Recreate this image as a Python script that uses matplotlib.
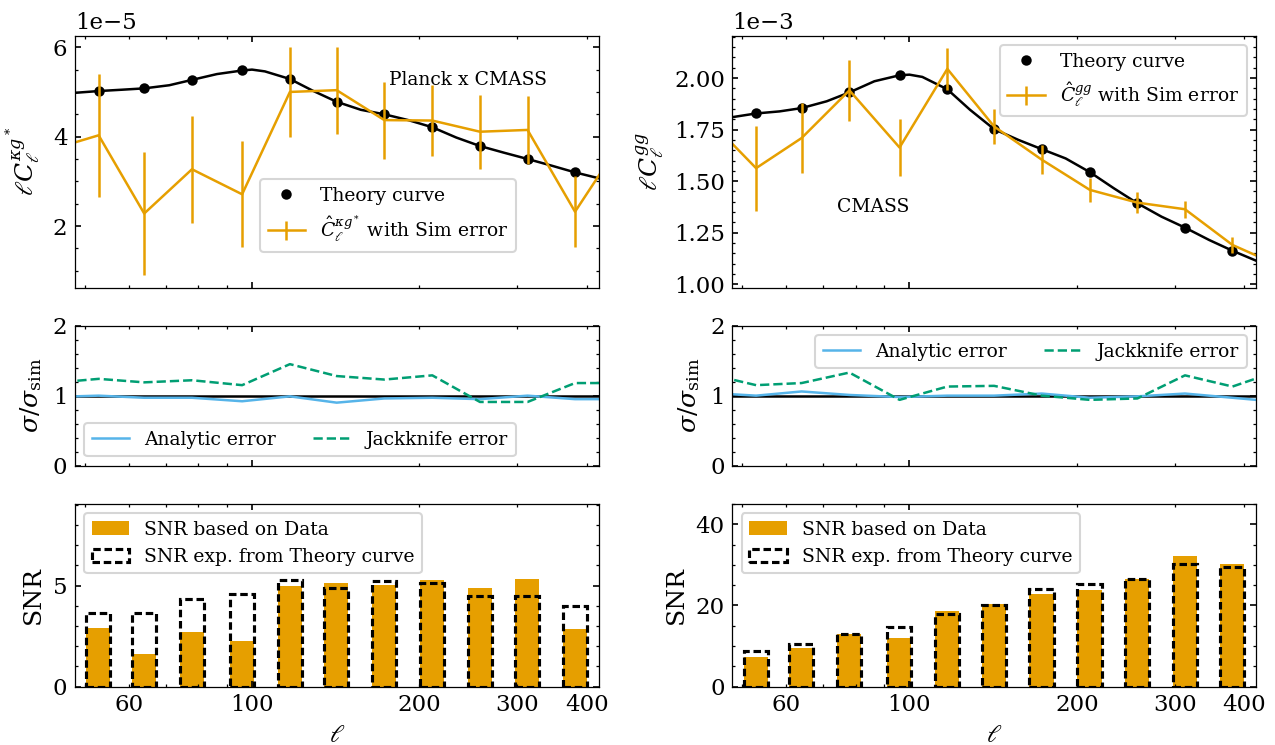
import matplotlib
matplotlib.use("Agg")
import matplotlib.pyplot as plt
from matplotlib.ticker import LogFormatter, AutoMinorLocator, MultipleLocator

plt.rcParams['font.family'] = 'serif'
plt.rcParams['font.serif'] = ['DejaVu Serif']
plt.rcParams['mathtext.fontset'] = 'dejavuserif'
plt.rcParams['font.size'] = 11
plt.rcParams['xtick.labelsize'] = 11
plt.rcParams['ytick.labelsize'] = 11
plt.rcParams['xtick.direction'] = 'in'
plt.rcParams['ytick.direction'] = 'in'
plt.rcParams['xtick.top'] = True
plt.rcParams['ytick.right'] = True
plt.rcParams['xtick.minor.visible'] = True
plt.rcParams['ytick.minor.visible'] = True
plt.rcParams['xtick.major.size'] = 3
plt.rcParams['ytick.major.size'] = 3
plt.rcParams['xtick.minor.size'] = 1.5
plt.rcParams['ytick.minor.size'] = 1.5
plt.rcParams['axes.linewidth'] = 0.6
plt.rcParams['legend.fontsize'] = 9

# bin centres (ell), plus one bin each side outside the plotted range
ell = [53, 64, 78, 96, 117, 142, 173, 211, 257, 313, 381]
ell_ext = [43.5] + ell + [463]

# smooth theory curves
ell_fine = [48, 53, 58.4, 64, 71, 78, 86.5, 96, 100, 105.5, 117, 128.5, 142,
            157, 173, 191, 211, 233, 257, 284, 313, 346, 381, 420]
kg_theory_fine = [4.98, 5.02, 5.05, 5.08, 5.15, 5.27, 5.40, 5.48, 5.50, 5.46, 5.29,
                  5.03, 4.78, 4.60, 4.50, 4.37, 4.21, 3.98, 3.79, 3.64, 3.50, 3.35,
                  3.20, 3.07]
gg_theory_fine = [1.81, 1.828, 1.838, 1.854, 1.887, 1.930, 1.984, 2.013, 2.016, 2.005,
                  1.945, 1.846, 1.752, 1.70, 1.655, 1.61, 1.544, 1.466, 1.393, 1.328,
                  1.275, 1.215, 1.163, 1.115]

# theory at bin centres
kg_theory = [5.02, 5.08, 5.27, 5.48, 5.29, 4.78, 4.50, 4.21, 3.79, 3.50, 3.20]
gg_theory = [1.828, 1.854, 1.930, 2.013, 1.945, 1.752, 1.655, 1.544, 1.393, 1.275, 1.163]

# measured spectra (ell_ext) and sim errors
kg_data = [3.71, 4.03, 2.28, 3.27, 2.71, 5.00, 5.04, 4.37, 4.36, 4.11, 4.15, 2.32, 3.92]
kg_err = [1.4, 1.38, 1.38, 1.20, 1.19, 1.00, 0.97, 0.86, 0.80, 0.83, 0.76, 0.80, 0.8]
gg_data = [1.80, 1.563, 1.709, 1.940, 1.663, 2.044, 1.765, 1.604, 1.458, 1.396, 1.364,
           1.191, 1.09]
gg_err = [0.21, 0.206, 0.170, 0.147, 0.136, 0.103, 0.085, 0.070, 0.058, 0.051, 0.040,
          0.040, 0.04]

# error ratios (ell_ext)
kg_analytic = [0.98, 1.00, 0.97, 0.97, 0.92, 0.99, 0.90, 0.96, 0.97, 0.95, 1.00, 0.95, 0.95]
kg_jack = [1.18, 1.24, 1.19, 1.22, 1.15, 1.45, 1.28, 1.23, 1.29, 0.91, 0.91, 1.18, 1.18]
gg_analytic = [1.04, 1.00, 1.06, 1.01, 0.98, 1.00, 1.00, 1.03, 0.97, 0.99, 1.03, 0.97, 0.91]
gg_jack = [1.31, 1.15, 1.18, 1.33, 0.94, 1.13, 1.14, 1.00, 0.94, 0.96, 1.29, 1.13, 1.36]

# SNR per bin
kg_snr_data = [2.92, 1.62, 2.71, 2.26, 4.98, 5.13, 5.03, 5.28, 4.88, 5.33, 2.85]
kg_snr_theory = [3.63, 3.63, 4.34, 4.59, 5.28, 4.88, 5.23, 5.15, 4.50, 4.50, 3.99]
gg_snr_data = [7.4, 9.6, 13.0, 12.1, 18.7, 20.3, 22.9, 23.9, 26.5, 32.3, 30.3]
gg_snr_theory = [8.8, 10.6, 12.9, 14.8, 17.9, 20.2, 24.0, 25.3, 26.5, 30.3, 29.6]

orange = '#E69F00'
blue = '#56B4E9'
green = '#009E73'

fig, axes = plt.subplots(3, 2, figsize=(8.5, 4.967), dpi=150, sharex=True,
                         gridspec_kw={'height_ratios': [252, 140, 183]})
fig.subplots_adjust(left=0.0586, right=0.9851, top=0.9521, bottom=0.0783,
                    hspace=0.198, wspace=0.255)

columns = [
    (kg_theory_fine, kg_theory, kg_data, kg_err, 1e-5, r'$\hat{C}_\ell^{\kappa g^*}$ with Sim error',
     r'$\ell C_\ell^{\kappa g^*}$', kg_analytic, kg_jack, kg_snr_data, kg_snr_theory),
    (gg_theory_fine, gg_theory, gg_data, gg_err, 1e-3, r'$\hat{C}_\ell^{gg}$ with Sim error',
     r'$\ell C_\ell^{gg}$', gg_analytic, gg_jack, gg_snr_data, gg_snr_theory),
]

for j, (tfine, tpts, data, err, sc, dlabel, ylab, ana, jack, snr_d, snr_t) in enumerate(columns):
    ax = axes[0, j]
    ax.plot(ell_fine, [v * sc for v in tfine], color='black', lw=1.2)
    ax.plot(ell, [v * sc for v in tpts], 'o', color='black', ms=4, label='Theory curve')
    ax.errorbar(ell_ext, [v * sc for v in data], yerr=[e * sc for e in err], color=orange,
                lw=1.2, elinewidth=1.2, label=dlabel)
    ax.set_ylabel(ylab, fontsize=12)
    ax.ticklabel_format(axis='y', style='sci', scilimits=(0, 0))

    ax = axes[1, j]
    ax.axhline(1, color='black', lw=1.2)
    ax.plot(ell_ext, ana, color=blue, lw=1.2, label='Analytic error')
    ax.plot(ell_ext, jack, color=green, lw=1.2, ls='--', label='Jackknife error')
    ax.set_ylim(0, 2)
    ax.set_ylabel(r'$\sigma/\sigma_{\rm sim}$', fontsize=12)
    ax.yaxis.set_major_locator(MultipleLocator(1))

    ax = axes[2, j]
    widths = [0.1 * x for x in ell]
    ax.bar(ell, snr_d, width=widths, color=orange, label='SNR based on Data')
    ax.bar(ell, snr_t, width=widths, fill=False, edgecolor='black', ls=(0, (2.4, 1.2)),
           lw=1.5, label='SNR exp. from Theory curve')
    ax.set_ylabel('SNR', fontsize=12)
    ax.set_xlabel(r'$\ell$', fontsize=12)
    ax.legend(loc='upper left')

axes[0, 0].yaxis.set_major_locator(MultipleLocator(2e-5))
axes[0, 1].yaxis.set_major_locator(MultipleLocator(0.25e-3))
axes[2, 0].yaxis.set_major_locator(MultipleLocator(5))
axes[2, 1].yaxis.set_major_locator(MultipleLocator(20))

for ax in axes.flat:
    ax.set_xscale('log')
    ax.set_xlim(48, 420)
    ax.xaxis.set_major_formatter(LogFormatter())
    ax.xaxis.set_minor_formatter(LogFormatter())
    ax.yaxis.set_minor_locator(AutoMinorLocator())

axes[0, 0].set_ylim(0.62e-5, 6.26e-5)
axes[0, 1].set_ylim(0.984e-3, 2.205e-3)
axes[2, 0].set_ylim(0, 9.05)
axes[2, 1].set_ylim(0, 45.1)

axes[0, 0].legend(loc='lower left', bbox_to_anchor=(0.354, 0.143), borderaxespad=0)
axes[0, 1].legend(loc='upper right')
axes[1, 0].legend(loc='lower left', ncol=2)
axes[1, 1].legend(loc='upper right', ncol=2)

axes[0, 0].text(0.60, 0.825, 'Planck x CMASS', transform=axes[0, 0].transAxes,
                fontsize=9, va='center')
axes[0, 1].text(0.20, 0.32, 'CMASS', transform=axes[0, 1].transAxes,
                fontsize=9, va='center')

fig.savefig('out.png', dpi=150)
